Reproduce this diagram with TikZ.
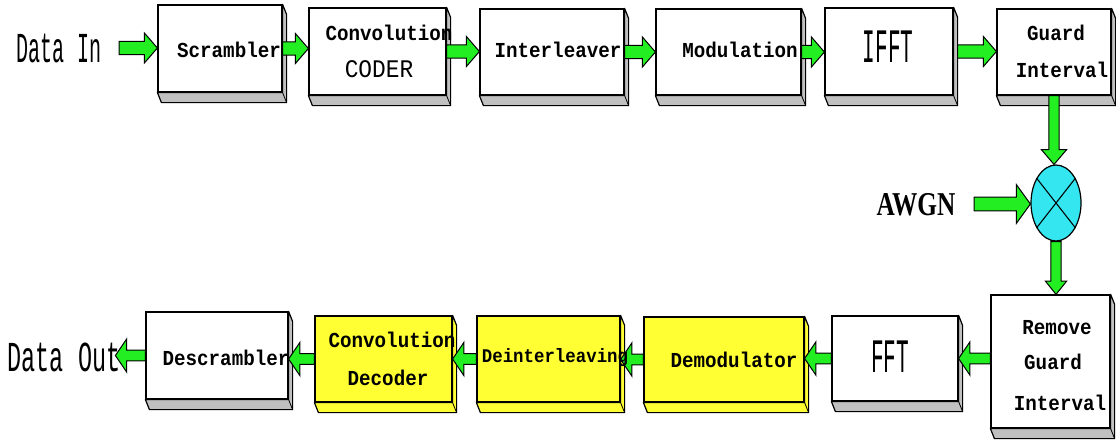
\documentclass[tikz,border=0pt]{standalone}
\usepackage{fontspec}
\usetikzlibrary{calc,fit,shapes.geometric}
\newfontfamily\boxf[FakeStretch=0.9]{Liberation Mono}
\newfontfamily\dinf[FakeStretch=0.47]{Liberation Mono}
\newfontfamily\doutf[FakeStretch=0.55]{Liberation Mono}
\newfontfamily\fftf[FakeStretch=0.44]{Liberation Mono}
\newfontfamily\awgnf[FakeStretch=0.76]{Liberation Serif}
\definecolor{arrgreen}{RGB}{34,238,34}
\definecolor{boxyellow}{RGB}{255,255,51}
\definecolor{shadowgray}{RGB}{192,192,192}
\definecolor{mixcyan}{RGB}{51,230,240}
\newcommand\extrude[2]{%
  \filldraw[fill=#2, draw=black, line width=0.9pt, line join=round]
    (#1.south west) -- ($(#1.south west)+(4,10)$) -- ($(#1.south east)+(4,10)$)
    -- ($(#1.north east)+(4,10)$) -- (#1.north east) -- (#1.south east) -- cycle;
  \draw[line width=0.6pt] (#1.south east) -- ($(#1.south east)+(4,10)$);
}
\tikzset{
  ash/.store in=\ash, ahh/.store in=\ahh, ahl/.store in=\ahl,
  ash=4.9pt, ahh=11.25pt, ahl=9.75pt,
  box/.style={draw, line width=0.9pt, fill=white, inner sep=0pt},
  ybox/.style={box, fill=boxyellow},
  lbl/.style={inner sep=0pt, font=\boxf\bfseries\fontsize{16}{18}\selectfont},
  garrow/.style={draw=black, line width=0.75pt, fill=arrgreen, line join=miter,
    to path={
      ($(\tikztostart)!\ash!90:(\tikztotarget)$)
      -- ($(\tikztotarget)!\ahl!(\tikztostart)!\ash!90:(\tikztotarget)$)
      -- ($(\tikztotarget)!\ahl!(\tikztostart)!\ahh!90:(\tikztotarget)$)
      -- (\tikztotarget)
      -- ($(\tikztotarget)!\ahl!(\tikztostart)!\ahh!-90:(\tikztotarget)$)
      -- ($(\tikztotarget)!\ahl!(\tikztostart)!\ash!-90:(\tikztotarget)$)
      -- ($(\tikztostart)!\ash!-90:(\tikztotarget)$) -- cycle}},
  toparrow/.style={garrow, ash=4.9pt, ahh=11.25pt, ahl=9.75pt},
  botarrow/.style={garrow, ash=4.1pt, ahh=12.5pt, ahl=8.5pt},
}
\begin{document}
\begin{tikzpicture}[x=0.75pt,y=-0.75pt]
\fill[white] (0,0) rectangle (1116,446);
\useasboundingbox (0,0) rectangle (1116,446);

% top row boxes
\node[box, fit={(158,5) (282,92)}] (scr) {};
\node[box, fit={(309,8) (446,95)}] (coder) {};
\node[box, fit={(480,9) (624,95)}] (inter) {};
\node[box, fit={(656,9) (801,95)}] (mod) {};
\node[box, fit={(825,8) (953,95)}] (ifft) {};
\node[box, fit={(997,9) (1111,95)}] (guard) {};
% bottom row boxes
\node[box, fit={(991,295) (1110,428)}] (rgi) {};
\node[box, fit={(832,316) (958,401)}] (fft) {};
\node[ybox, fit={(644,317) (804,402)}] (demod) {};
\node[ybox, fit={(477,316) (620,402)}] (deint) {};
\node[ybox, fit={(315,316) (452,402)}] (cdec) {};
\node[box, fit={(146,312) (288,399)}] (descr) {};

\extrude{scr}{shadowgray}
\extrude{coder}{shadowgray}
\extrude{inter}{shadowgray}
\extrude{mod}{shadowgray}
\extrude{ifft}{shadowgray}
\extrude{guard}{shadowgray}
\extrude{rgi}{shadowgray}
\extrude{fft}{shadowgray}
\extrude{demod}{boxyellow}
\extrude{deint}{boxyellow}
\extrude{cdec}{boxyellow}
\extrude{descr}{shadowgray}

% mixer
\node[draw, line width=0.9pt, ellipse, fill=mixcyan, minimum width=37.5pt,
      minimum height=57pt, inner sep=0pt] (mix) at (1056,203) {};
\draw[line width=0.8pt] (mix.128) -- (mix.-52);
\draw[line width=0.8pt] (mix.52) -- (mix.232);

% labels
\node[inner sep=0pt, font=\dinf\fontsize{32}{34}\selectfont] (din) at (59,48) {Data In};
\node[inner sep=0pt, font=\doutf\fontsize{32}{34}\selectfont] (dout) at (64,357) {Data Out};
\node[inner sep=0pt, font=\awgnf\bfseries\fontsize{25}{28}\selectfont] (awgn) at (916,205) {AWGN};
\coordinate (dinend) at (119,48);
\coordinate (awgnend) at (974,204);

% arrows
\draw[toparrow] (dinend) to (dinend -| scr.west);
\draw[toparrow] (scr.east) to (scr.east -| coder.west);
\draw[toparrow] (coder.east) to (coder.east -| inter.west);
\draw[toparrow] (inter.east) to (inter.east -| mod.west);
\draw[toparrow] (mod.east) to (mod.east -| ifft.west);
\draw[toparrow] ($(ifft.east)+(4,0)$) to (ifft.east -| guard.west);
\draw[garrow, ash=3.9pt, ahh=9.4pt, ahl=11pt] (guard.south) to (guard.south |- mix.north);
\draw[garrow, ash=5.2pt, ahh=14.5pt, ahl=10.5pt] (awgnend) to (awgnend -| mix.west);
\draw[garrow, ash=3.9pt, ahh=8pt, ahl=10pt] (mix.south) to (mix.south |- rgi.north);
\draw[botarrow] (rgi.west |- fft.east) to (fft.east);
\draw[botarrow] (fft.west) to (fft.west -| demod.east);
\draw[botarrow] (demod.west) to (demod.west -| deint.east);
\draw[botarrow] (deint.west) to (deint.west -| cdec.east);
\draw[botarrow] (cdec.west) to (cdec.west -| descr.east);
\draw[botarrow] (descr.west) to ++(-30,0);

% box texts
\node[lbl] (tscr) at (229,50) {Scrambler};
\node[lbl] (tcoder1) at (389,33) {Convolution};
\node[inner sep=0pt, font=\boxf\fontsize{19}{21}\selectfont] (tcoder2) at (379,69) {CODER};
\node[lbl] (tinter) at (558,50) {Interleaver};
\node[lbl] (tmod) at (740,50) {Modulation};
\node[inner sep=0pt, font=\fftf\fontsize{36}{38}\selectfont] (tifft) at (888,47) {IFFT};
\node[lbl] (tguard1) at (1056,33) {Guard};
\node[lbl] (tguard2) at (1062,70) {Interval};
\node[lbl] (trgi1) at (1057,328) {Remove};
\node[lbl] (trgi2) at (1053,362) {Guard};
\node[lbl] (trgi3) at (1060,403) {Interval};
\node[inner sep=0pt, font=\fftf\fontsize{36}{38}\selectfont] (tfft) at (890,357) {FFT};
\node[lbl] (tdemod) at (734,360) {Demodulator};
\node[lbl, font=\boxf\bfseries\fontsize{14.5}{16}\selectfont] (tdeint) at (555,358) {Deinterleaving};
\node[lbl] (tcdec1) at (392,340) {Convolution};
\node[lbl] (tcdec2) at (388,378) {Decoder};
\node[lbl] (tdescr) at (226,358) {Descrambler};
\end{tikzpicture}
\end{document}
